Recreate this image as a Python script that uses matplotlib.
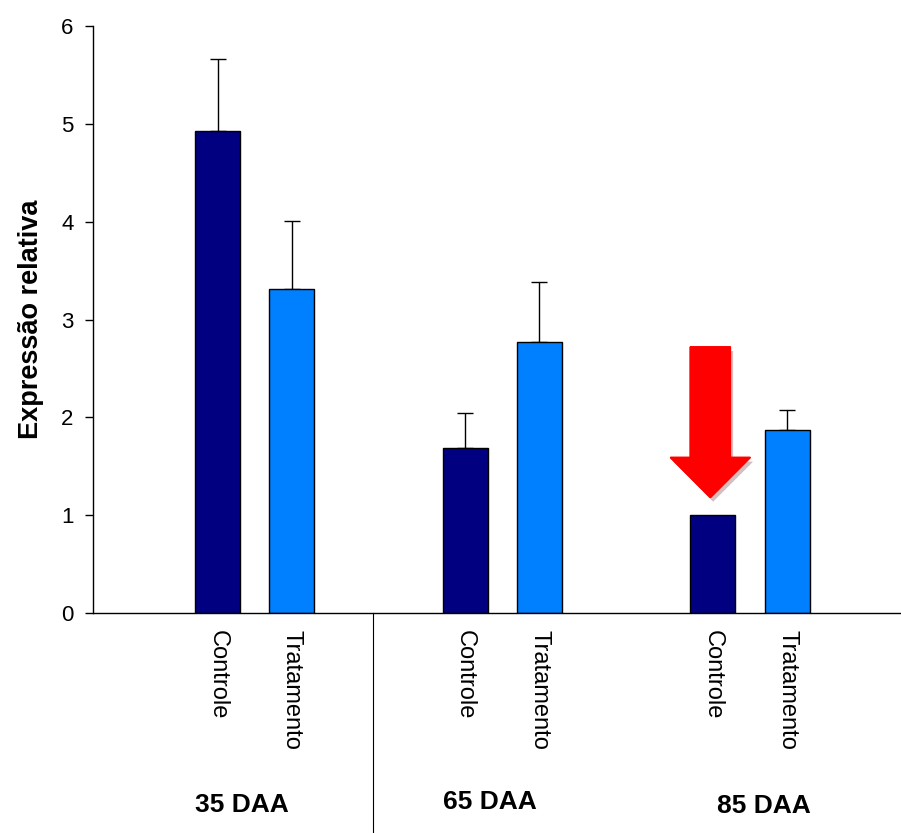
import numpy as np
import matplotlib
matplotlib.use("Agg")
import matplotlib.pyplot as plt
from matplotlib.patches import FancyArrow
import matplotlib.patheffects as pe

plt.rcParams['font.family'] = ['Liberation Sans', 'DejaVu Sans']

groups = ["35 DAA", "65 DAA", "85 DAA"]
treatments = ["Controle", "Tratamento"]
controle = [4.93, 1.69, 1.00]
controle_err = [0.73, 0.35, 0.0]
tratamento = [3.31, 2.77, 1.87]
tratamento_err = [0.70, 0.61, 0.21]

colors = ["#000080", "#0080FF"]

fig = plt.figure(figsize=(9.01, 8.33), dpi=100)
ax = fig.add_axes([93 / 901, 220 / 833, 808 / 901, 587 / 833])

g = np.arange(len(groups))
off = 0.15
w = 0.182

ax.bar(g - off, controle, w, color=colors[0], edgecolor="black", linewidth=1, zorder=2)
ax.bar(g + off, tratamento, w, color=colors[1], edgecolor="black", linewidth=1, zorder=2)

ce = np.array(controle_err)
te = np.array(tratamento_err)
mask = ce > 0
ax.errorbar((g - off)[mask], np.array(controle)[mask], yerr=[np.zeros(mask.sum()), ce[mask]],
            fmt="none", ecolor="black", elinewidth=1, capsize=5.8, capthick=1, zorder=1)
ax.errorbar(g + off, tratamento, yerr=[np.zeros(len(g)), te],
            fmt="none", ecolor="black", elinewidth=1, capsize=5.8, capthick=1, zorder=1)

ax.set_xlim(-0.653, 2.61)
ax.set_ylim(0, 6)
ax.set_yticks(range(0, 7))
ax.tick_params(axis="y", labelsize=16, length=6, width=1, pad=8)

xt = np.concatenate([g - off, g + off])
ax.set_xticks(xt)
ax.set_xticklabels(treatments[:1] * 3 + treatments[1:] * 3, rotation=-90, fontsize=17)
ax.tick_params(axis="x", length=0, pad=12)

for s in ["top", "right"]:
    ax.spines[s].set_visible(False)
ax.spines["left"].set_linewidth(1)
ax.spines["bottom"].set_linewidth(1)

ax.set_ylabel("Expressão relativa", fontsize=19.5, fontweight="bold", labelpad=12)

# separator between first and second group
ax.plot([0.478, 0.478], [0, -0.375], color="black", linewidth=0.8,
        transform=ax.get_xaxis_transform(), clip_on=False)

label_dx = [-0.05, -0.05, 0.055]
label_dy = [-0.327, -0.322, -0.329]
for i, name in enumerate(groups):
    ax.text(g[i] + label_dx[i], label_dy[i], name, transform=ax.get_xaxis_transform(),
            ha="center", va="center", fontsize=19, fontweight="bold")

# red arrow over 85 DAA controle
arrow_top = 2.72
arrow_tip = 1.18
arr = FancyArrow(g[2] - off - 0.01, arrow_top, 0, arrow_tip - arrow_top,
                 width=0.162, head_width=0.323, head_length=0.41,
                 length_includes_head=True, color="#FF0000", zorder=4)
arr.set_path_effects([pe.withSimplePatchShadow(offset=(2, -3), alpha=0.25), pe.Normal()])
ax.add_patch(arr)

fig.savefig("out.png", dpi=100)
